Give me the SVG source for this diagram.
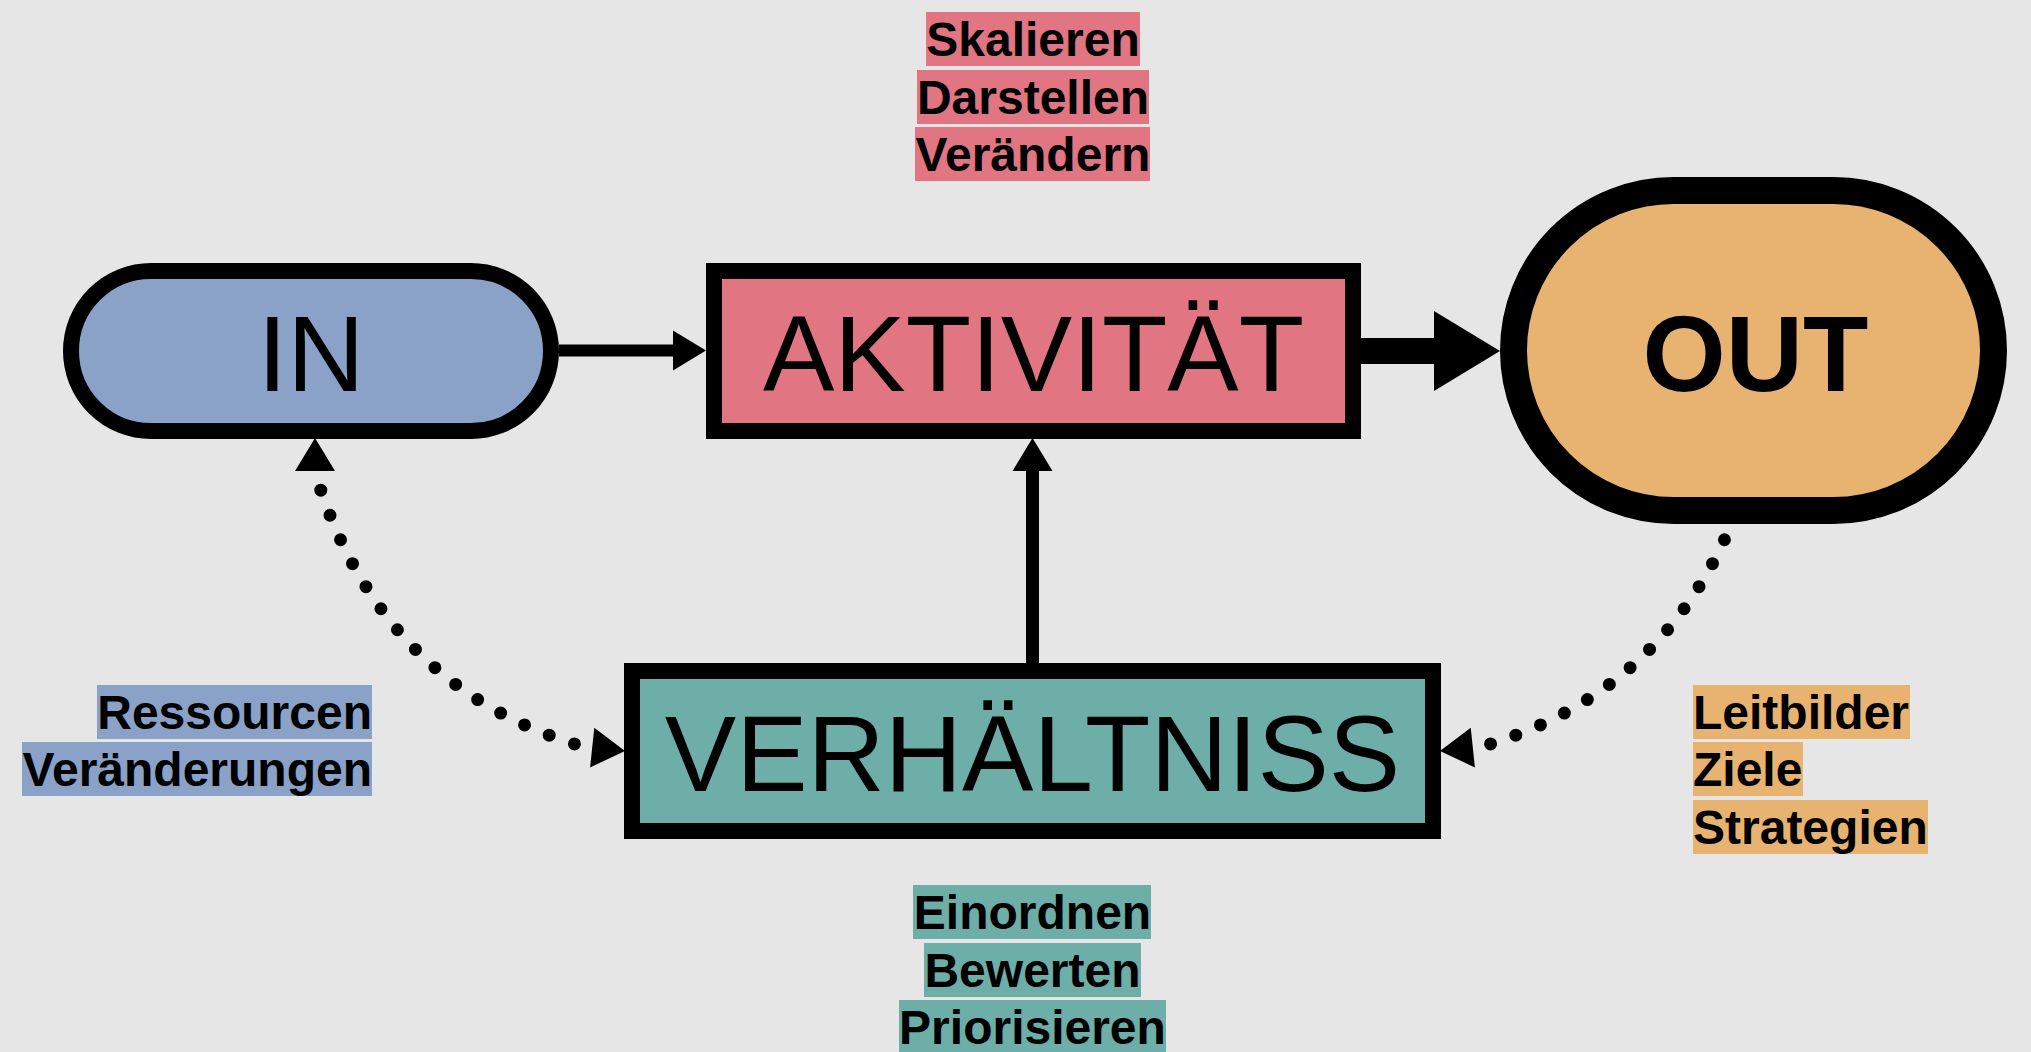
<svg xmlns="http://www.w3.org/2000/svg" xmlns:xlink="http://www.w3.org/1999/xlink" width="2031" height="1052" viewBox="0 0 2031 1052">
  <style>
    .node { stroke: #000; }
    .big { font-family: "Liberation Sans", Arial, sans-serif; font-size: 107px; fill: #000; text-anchor: middle; }
    .lbl { font-family: "Liberation Sans", Arial, sans-serif; font-size: 48px; font-weight: bold; fill: #000; }
    .mid { text-anchor: middle; }
    .end { text-anchor: end; }
    .blue { fill: #8AA2C8; }
    .pink { fill: #E17682; }
    .orange { fill: #E8B370; }
    .teal { fill: #6DAFA8; }
    .line { stroke: #000; fill: none; }
    .dots { stroke: #000; fill: none; stroke-width: 13; stroke-linecap: round; stroke-dasharray: 0 26.7; stroke-dashoffset: 7.7; }
  </style>
  <defs>
    <path id="ah" d="M0,0 L-33,-20 L-33,20 Z" fill="#000"/>
    <path id="ahBig" d="M0,0 L-66,-40 L-66,40 Z" fill="#000"/>
  </defs>
  <rect x="0" y="0" width="2031" height="1052" fill="#E6E6E6"/>

  <g id="connectors">
    <g id="in-aktivitaet">
      <line class="line" x1="559" y1="350.5" x2="675" y2="350.5" stroke-width="12"/>
      <use xlink:href="#ah" href="#ah" transform="translate(706,350.5)"/>
    </g>
    <g id="aktivitaet-out">
      <line class="line" x1="1361" y1="351" x2="1440" y2="351" stroke-width="26"/>
      <use xlink:href="#ahBig" href="#ahBig" transform="translate(1500,351)"/>
    </g>
    <g id="verhaeltniss-aktivitaet">
      <line class="line" x1="1032.5" y1="663" x2="1032.5" y2="468" stroke-width="13"/>
      <use xlink:href="#ah" href="#ah" transform="translate(1032.5,438) rotate(-90)"/>
    </g>
    <g id="in-verhaeltniss">
      <path class="dots" d="M315,472 Q381,692 592,749"/>
      <use xlink:href="#ah" href="#ah" transform="translate(315,438) rotate(-90)"/>
      <use xlink:href="#ah" href="#ah" transform="translate(625,751) rotate(6)"/>
    </g>
    <g id="out-verhaeltniss">
      <path class="dots" d="M1750,472 Q1684,692 1473,749"/>
      <use xlink:href="#ah" href="#ah" transform="translate(1440,751) rotate(174)"/>
    </g>
  </g>

  <g id="node-in">
    <rect class="node blue" x="71" y="271" width="480" height="160" rx="80" ry="80" stroke-width="16"/>
    <text class="big" x="311" y="391">IN</text>
  </g>
  <g id="node-aktivitaet">
    <rect class="node pink" x="714" y="271" width="639" height="160" stroke-width="16"/>
    <text class="big" x="1033.5" y="391">AKTIVITÄT</text>
  </g>
  <g id="node-out">
    <rect class="node orange" x="1513.5" y="190.5" width="480" height="320" rx="160" ry="160" stroke-width="27"/>
    <text class="big" x="1755.5" y="391" font-weight="bold" font-size="105">OUT</text>
  </g>
  <g id="node-verhaeltniss">
    <rect class="node teal" x="632" y="671" width="801" height="160" stroke-width="16"/>
    <text class="big" x="1032.5" y="791">VERHÄLTNISS</text>
  </g>

  <g id="labels-aktivitaet">
    <rect class="pink" x="926" y="12" width="214" height="54"/>
    <rect class="pink" x="917" y="70" width="232" height="54"/>
    <rect class="pink" x="915" y="127" width="235" height="54"/>
    <text class="lbl mid" x="1033" y="55.5">Skalieren</text>
    <text class="lbl mid" x="1033" y="113.5">Darstellen</text>
    <text class="lbl mid" x="1033" y="170.5">Verändern</text>
  </g>
  <g id="labels-in">
    <rect class="blue" x="97" y="685" width="275" height="54"/>
    <rect class="blue" x="22" y="742" width="350" height="54"/>
    <text class="lbl end" x="372" y="728.5">Ressourcen</text>
    <text class="lbl end" x="372" y="785.5">Veränderungen</text>
  </g>
  <g id="labels-out">
    <rect class="orange" x="1693" y="685" width="217" height="54"/>
    <rect class="orange" x="1693" y="742" width="110" height="54"/>
    <rect class="orange" x="1693" y="800" width="235" height="54"/>
    <text class="lbl" x="1693" y="728.5">Leitbilder</text>
    <text class="lbl" x="1693" y="785.5">Ziele</text>
    <text class="lbl" x="1693" y="843.5">Strategien</text>
  </g>
  <g id="labels-verhaeltniss">
    <rect class="teal" x="913" y="885" width="238" height="54"/>
    <rect class="teal" x="924" y="943" width="217" height="54"/>
    <rect class="teal" x="899" y="1000" width="267" height="54"/>
    <text class="lbl mid" x="1032.5" y="928.5">Einordnen</text>
    <text class="lbl mid" x="1032.5" y="986.5">Bewerten</text>
    <text class="lbl mid" x="1032.5" y="1043.5">Priorisieren</text>
  </g>
</svg>
